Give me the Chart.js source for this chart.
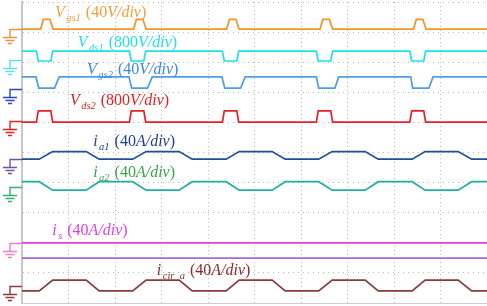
<!DOCTYPE html>
<html>
<head>
<meta charset="utf-8">
<script src="https://cdn.jsdelivr.net/npm/chart.js@4.4.0/dist/chart.umd.min.js"></script>
<style>
  html, body { margin: 0; padding: 0; background: #fff; }
  #wrap { width: 487px; height: 306px; }
</style>
</head>
<body>
<div id="wrap"><canvas id="scope" width="487" height="306"></canvas></div>
<script>
// scope screen: 10 x 10 divisions, everything below is in divisions

// gate pulse of Vgs1
const gs1Time = [0, 0.40, 0.46, 0.60, 0.67, 2.40, 2.46, 2.60, 2.67, 4.40, 4.46, 4.60, 4.67, 6.41, 6.47, 6.61, 6.68, 8.42, 8.48, 8.62, 8.69, 10];
const gs1Val  = [9.10, 9.10, 9.42, 9.42, 9.10, 9.10, 9.42, 9.42, 9.10, 9.10, 9.42, 9.42, 9.10, 9.10, 9.42, 9.42, 9.10, 9.10, 9.42, 9.42, 9.10, 9.10];

// drain-source switching edges (Vds1 / Vds2)
const dsTime = [0, 0.31, 0.35, 0.62, 0.66, 2.31, 2.35, 2.62, 2.66, 4.31, 4.35, 4.62, 4.66, 6.33, 6.37, 6.64, 6.68, 8.34, 8.38, 8.64, 8.68, 10];
const ds1Val = [8.37, 8.37, 8.04, 8.04, 8.37, 8.37, 8.04, 8.04, 8.37, 8.37, 8.04, 8.04, 8.37, 8.37, 8.04, 8.04, 8.37, 8.37, 8.04, 8.04, 8.37, 8.37];
const ds2Val = [6.01, 6.01, 6.38, 6.38, 6.01, 6.01, 6.38, 6.38, 6.01, 6.01, 6.38, 6.38, 6.01, 6.01, 6.38, 6.38, 6.01, 6.01, 6.38, 6.38, 6.01, 6.01];

// gate of Vgs2
const gs2Time = [0, 0.30, 0.36, 0.70, 0.80, 2.30, 2.36, 2.70, 2.80, 4.30, 4.36, 4.70, 4.80, 6.33, 6.38, 6.73, 6.81, 8.36, 8.40, 8.75, 8.84, 10];
const gs2Val  = [7.51, 7.51, 7.14, 7.14, 7.51, 7.51, 7.14, 7.14, 7.51, 7.51, 7.14, 7.14, 7.51, 7.51, 7.14, 7.14, 7.51, 7.51, 7.14, 7.14, 7.51, 7.51];

// arm currents, trapezoidal
const armTime = [0, 0.37, 0.66, 1.38, 1.66, 2.38, 2.67, 3.38, 3.66, 4.39, 4.67, 5.38, 5.66, 6.38, 6.67, 7.38, 7.66, 8.39, 8.67, 9.38, 9.67, 10];
const ia1Val  = [4.78, 4.78, 5.03, 5.03, 4.78, 4.78, 5.03, 5.03, 4.78, 4.78, 5.03, 5.03, 4.78, 4.78, 5.03, 5.03, 4.78, 4.78, 5.03, 5.03, 4.78, 4.78];
const ia2Val  = [4.03, 4.03, 3.75, 3.75, 4.03, 4.03, 3.75, 3.75, 4.03, 4.03, 3.75, 3.75, 4.03, 4.03, 3.75, 3.75, 4.03, 4.03, 3.75, 3.75, 4.03, 4.03];
const cirVal  = [0.40, 0.40, 0.76, 0.76, 0.40, 0.40, 0.76, 0.76, 0.40, 0.40, 0.76, 0.76, 0.40, 0.40, 0.76, 0.76, 0.40, 0.40, 0.76, 0.76, 0.40, 0.40];

// flat traces
const flatTime = [0, 10];
const isVal    = [2.00, 2.00];
const purpVal  = [1.49, 1.49];

// ground reference of each channel
const gndLevel = [9.10, 8.07, 7.11, 6.05, 4.78, 3.85, 1.99, 0.56];
const gndColor = ['#ec9440', '#62dde8', '#2a46c6', '#e62020', '#6b56a2', '#2fb272', '#f27cc8', '#8a3c3c'];

// channel labels: symbol, subscript, scale number, unit
const labSym  = ['V', 'V', 'V', 'V', 'i', 'i', 'i', 'i'];
const labSub  = ['gs1', 'ds1', 'gs2', 'ds2', 'a1', 'a2', 's', 'cir_a'];
const labNum  = ['40', '800', '40', '800', '40', '40', '40', '40'];
const labUnit = ['V/div', 'V/div', 'V/div', 'V/div', 'A/div', 'A/div', 'A/div', 'A/div'];
const labColor = ['#f0a040', '#22e0ea', '#3a88e0', '#e41e22', '#223e92', '#38a448', '#e040e0', '#8a2c2c'];
const labAt = [[0.71, 9.50], [1.20, 8.50], [1.40, 7.60], [1.03, 6.58], [1.53, 5.23], [1.53, 4.20], [0.65, 2.25], [2.90, 0.93]];

function trace(t, v) { return t.map((x, i) => ({x: x, y: v[i]})); }

function ds(t, v, color) {
    return {data: trace(t, v), borderColor: color, borderWidth: 1.7, pointRadius: 0, tension: 0, fill: false};
}

const grounds = {
    id: 'grounds',
    afterDatasetsDraw(chart) {
        const ctx = chart.ctx, y = chart.scales.y, left = chart.chartArea.left;
        ctx.save();
        ctx.lineWidth = 1.4;
        gndLevel.forEach((g, i) => {
            const py = Math.round(y.getPixelForValue(g)) + 0.5;
            const cx = 10;
            ctx.strokeStyle = gndColor[i];
            ctx.beginPath();
            ctx.moveTo(left, py); ctx.lineTo(cx, py); ctx.lineTo(cx, py + 8);
            ctx.moveTo(cx - 7, py + 8); ctx.lineTo(cx + 7, py + 8);
            ctx.moveTo(cx - 4.5, py + 11); ctx.lineTo(cx + 4.5, py + 11);
            ctx.moveTo(cx - 2, py + 14); ctx.lineTo(cx + 2, py + 14);
            ctx.stroke();
        });
        ctx.restore();
    }
};

const labels = {
    id: 'labels',
    afterDatasetsDraw(chart) {
        const ctx = chart.ctx, sx = chart.scales.x, sy = chart.scales.y;
        const fam = '"Liberation Serif", serif';
        ctx.save();
        ctx.textBaseline = 'alphabetic';
        labSym.forEach((s, i) => {
            let x = sx.getPixelForValue(labAt[i][0]);
            const y = sy.getPixelForValue(labAt[i][1]);
            ctx.fillStyle = labColor[i];
            const put = (txt, font, dy) => {
                ctx.font = font;
                ctx.fillText(txt, x, y + dy);
                x += ctx.measureText(txt).width;
            };
            put(s, 'italic 16px ' + fam, 0);
            x += 1.5;
            put(labSub[i], 'italic 10.5px ' + fam, 4);
            x += 5;
            put('(' + labNum[i], '16px ' + fam, 0);
            put(labUnit[i], 'italic 16px ' + fam, 0);
            put(')', '16px ' + fam, 0);
        });
        ctx.restore();
    }
};

new Chart(document.getElementById('scope'), {
    type: 'line',
    data: {
        datasets: [
            ds(gs1Time, gs1Val, '#f0962a'),
            ds(dsTime, ds1Val, '#1ee2ea'),
            ds(gs2Time, gs2Val, '#4c9ee6'),
            ds(dsTime, ds2Val, '#e8202a'),
            ds(armTime, ia1Val, '#1f4f9a'),
            ds(armTime, ia2Val, '#20b09e'),
            ds(flatTime, isVal, '#e63ae0'),
            ds(flatTime, purpVal, '#a468de'),
            ds(armTime, cirVal, '#8a3b3b')
        ]
    },
    options: {
        responsive: false,
        animation: false,
        layout: {padding: {left: 22, top: 2, right: 0, bottom: 3}},
        plugins: {legend: {display: false}, tooltip: {enabled: false}},
        scales: {
            x: {
                type: 'linear', min: 0, max: 10,
                ticks: {display: false, stepSize: 1},
                grid: {color: '#b8b8b8', lineWidth: 1, drawTicks: false},
                border: {display: true, color: '#cfcfcf', width: 1, dash: [1, 3]}
            },
            y: {
                type: 'linear', min: 0, max: 10,
                ticks: {display: false, stepSize: 1},
                grid: {color: '#b8b8b8', lineWidth: 1, drawTicks: false},
                border: {display: true, color: '#c8c8c8', width: 2, dash: [1, 4]}
            }
        }
    },
    plugins: [grounds, labels]
});
</script>
</body>
</html>
